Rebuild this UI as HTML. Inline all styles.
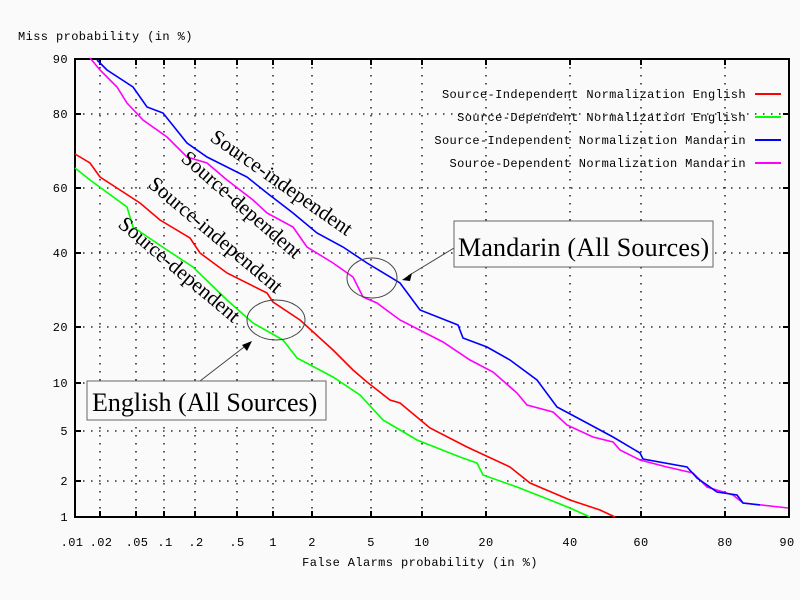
<!DOCTYPE html>
<html><head><style>body{margin:0;background:#fafafa}svg{display:block}</style></head><body>
<svg width="800" height="600" xmlns="http://www.w3.org/2000/svg" font-family="Liberation Mono, monospace" font-size="12" letter-spacing="0.4">
<rect width="800" height="600" fill="#fafafa"/>
<g stroke="#000" stroke-dasharray="1.5,6.5" stroke-width="1.3">
<line x1="100" y1="59" x2="100" y2="517"/><line x1="136" y1="59" x2="136" y2="517"/><line x1="164" y1="59" x2="164" y2="517"/><line x1="195" y1="59" x2="195" y2="517"/><line x1="237" y1="59" x2="237" y2="517"/><line x1="273" y1="59" x2="273" y2="517"/><line x1="312" y1="59" x2="312" y2="517"/><line x1="371" y1="59" x2="371" y2="517"/><line x1="422" y1="59" x2="422" y2="517"/><line x1="486" y1="59" x2="486" y2="517"/><line x1="570" y1="59" x2="570" y2="517"/><line x1="641" y1="59" x2="641" y2="517"/><line x1="725" y1="59" x2="725" y2="517"/>
<line x1="75" y1="114" x2="789" y2="114"/><line x1="75" y1="188" x2="789" y2="188"/><line x1="75" y1="253" x2="789" y2="253"/><line x1="75" y1="327" x2="789" y2="327"/><line x1="75" y1="383" x2="789" y2="383"/><line x1="75" y1="431" x2="789" y2="431"/><line x1="75" y1="481" x2="789" y2="481"/>
</g>
<rect x="75" y="59" width="714" height="458" fill="none" stroke="#000" stroke-width="2"/>
<g stroke="#000" stroke-width="2">
<path d="M100 517v-6M136 517v-6M164 517v-6M195 517v-6M237 517v-6M273 517v-6M312 517v-6M371 517v-6M422 517v-6M486 517v-6M570 517v-6M641 517v-6M725 517v-6"/>
<path d="M100 59v6M136 59v6M164 59v6M195 59v6M237 59v6M273 59v6M312 59v6M371 59v6M422 59v6M486 59v6M570 59v6M641 59v6M725 59v6"/>
<path d="M75 114h6M75 188h6M75 253h6M75 327h6M75 383h6M75 431h6M75 481h6"/>
<path d="M789 114h-6M789 188h-6M789 253h-6M789 327h-6M789 383h-6M789 431h-6M789 481h-6"/>
</g>
<g fill="#000" text-anchor="middle">
<text x="72" y="546">.01</text><text x="101" y="546">.02</text><text x="137" y="546">.05</text><text x="165" y="546">.1</text><text x="196" y="546">.2</text><text x="237" y="546">.5</text><text x="273" y="546">1</text><text x="312" y="546">2</text><text x="371" y="546">5</text><text x="422" y="546">10</text><text x="486" y="546">20</text><text x="570" y="546">40</text><text x="641" y="546">60</text><text x="725" y="546">80</text><text x="787" y="546">90</text>
</g>
<g fill="#000" text-anchor="end">
<text x="68" y="63">90</text><text x="68" y="118">80</text><text x="68" y="192">60</text><text x="68" y="257">40</text><text x="68" y="331">20</text><text x="68" y="387">10</text><text x="68" y="435">5</text><text x="68" y="485">2</text><text x="68" y="521">1</text>
</g>
<text x="18" y="40" fill="#000">Miss probability (in %)</text>
<text x="420" y="566" fill="#000" text-anchor="middle">False Alarms probability (in %)</text>
<g text-anchor="end" fill="#000">
<text x="746" y="98">Source-Independent Normalization English</text>
<text x="746" y="121">Source-Dependent Normalization English</text>
<text x="746" y="144">Source-Independent Normalization Mandarin</text>
<text x="746" y="167">Source-Dependent Normalization Mandarin</text>
</g>
<g stroke-width="2">
<line x1="755" y1="94" x2="781" y2="94" stroke="#f00"/>
<line x1="755" y1="117" x2="781" y2="117" stroke="#0f0"/>
<line x1="755" y1="140" x2="781" y2="140" stroke="#00f"/>
<line x1="755" y1="163" x2="781" y2="163" stroke="#f0f"/>
</g>
<g fill="none" stroke-width="1.6">
<polyline stroke="#0f0" points="75,168 90,180 127,207 133,227 167,250 193,267 227,300 253,323 283,340 297,358 333,377 360,395 383,420 400,430 417,440 460,457 477,463 483,475 517,487 550,500 570,508 590,517"/>
<polyline stroke="#f00" points="75,154 90,163 100,177 120,190 140,203 160,220 190,238 200,253 227,273 267,293 273,302 300,320 333,350 353,370 367,382 390,400 400,403 430,428 467,447 510,467 530,483 570,500 600,510 615,517"/>
<polyline stroke="#f0f" points="90,58 100,70 117,87 127,103 143,120 167,137 187,157 207,163 227,180 253,200 267,213 293,227 307,247 333,263 353,277 363,297 377,303 400,320 443,342 470,360 493,372 517,393 527,405 553,412 567,425 593,437 613,442 620,450 640,460 667,467 693,473 707,487 733,495 743,503 788,508"/>
<polyline stroke="#00f" points="97,60 107,70 133,87 147,107 163,113 187,143 207,157 247,177 267,193 293,213 317,233 343,247 367,263 400,283 420,310 458,325 463,338 487,347 510,360 537,380 557,407 587,423 613,437 640,453 643,459 687,467 697,478 717,492 737,495 743,503 760,505"/>
</g>
<g font-family="Liberation Serif, serif" font-size="21" fill="#000" letter-spacing="0">
<text transform="translate(209,140) rotate(35)">Source-independent</text>
<text transform="translate(180,160) rotate(41)">Source-dependent</text>
<text transform="translate(147,186) rotate(40)">Source-independent</text>
<text transform="translate(117,226) rotate(40)">Source-dependent</text>
</g>
<g fill="none" stroke="#444" stroke-width="1">
<ellipse cx="276" cy="320" rx="29" ry="20"/>
<ellipse cx="372" cy="278" rx="25" ry="20"/>
<line x1="200" y1="381" x2="248" y2="344"/>
<line x1="454" y1="248" x2="408" y2="276"/>
</g>
<polygon points="252,341 242,345 247,351" fill="#000"/>
<polygon points="402,280 412,273 410,281" fill="#000"/>
<rect x="87" y="381" width="239" height="39" fill="#fafafa" stroke="#666"/>
<rect x="454" y="221" width="259" height="46" fill="#fafafa" stroke="#666"/>
<g font-family="Liberation Serif, serif" font-size="26" fill="#000" letter-spacing="0">
<text x="92" y="411">English (All Sources)</text>
<text x="458" y="256" letter-spacing="0.2">Mandarin (All Sources)</text>
</g>
</svg>
</body></html>
